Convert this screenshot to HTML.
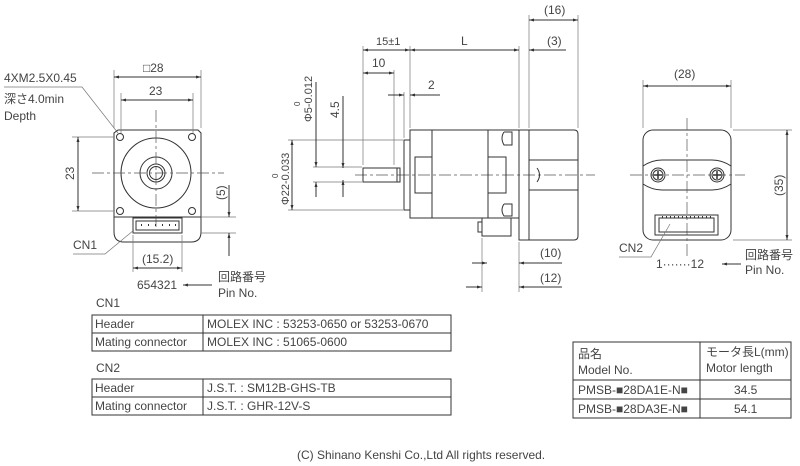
<!DOCTYPE html>
<html><head><meta charset="utf-8"><style>
html,body{margin:0;padding:0;background:#fff;}
svg{display:block;font-family:"Liberation Sans","Noto Sans CJK JP",sans-serif;}
text{fill:#444;font-size:12px;}
.l{stroke:#333;stroke-width:1;fill:none !important;}
.t{stroke:#777;stroke-width:0.7;fill:none !important;}
.c{stroke:#555;stroke-width:0.7;fill:none !important;stroke-dasharray:12 3 3 3;}
</style></head><body>
<svg width="800" height="466" viewBox="0 0 800 466" xmlns="http://www.w3.org/2000/svg">
<defs>
<marker id="a" viewBox="0 0 10 10" refX="10" refY="5" markerWidth="7" markerHeight="5" orient="auto-start-reverse"><path d="M0,2 L10,5 L0,8z" fill="#333"/></marker>
</defs>
<g fill="none">
<!-- ===== LEFT VIEW ===== -->
<text x="4" y="82">4XM2.5X0.45</text>
<text x="4" y="103">深さ4.0min</text>
<text x="4" y="120">Depth</text>
<path class="t" fill="none" d="M4,87 H82 L118,133"/>
<path class="l" fill="none" d="M118,130 H198 L201,133 V217 H114 V133 Z"/>
<path class="l" fill="none" d="M114,217 V232 Q114,242 124,242 H191 Q201,242 201,232 V217"/>
<circle class="l" fill="none" cx="120" cy="137" r="3.5"/><circle class="l" fill="none" cx="192" cy="137" r="3.5"/>
<circle class="l" fill="none" cx="120" cy="211" r="3.5"/><circle class="l" fill="none" cx="192" cy="211" r="3.5"/>
<circle class="l" fill="none" cx="156" cy="173" r="35"/>
<circle class="l" fill="none" cx="156" cy="173" r="16"/>
<circle class="l" fill="none" cx="156" cy="173" r="9"/>
<circle class="l" fill="none" cx="156" cy="173" r="6.5"/>
<path class="c" fill="none" d="M92,173 H224 M156,110 V230"/>
<rect class="l" fill="none" x="133" y="218" width="49" height="15" stroke-width="1.5"/>
<rect class="l" fill="none" x="136" y="221" width="43" height="9"/>
<path d="M141,225h1M148,225h1M155,225h1M162,225h1M169,225h1M175,225h1" stroke="#333" stroke-width="2"/>
<text x="143" y="72">□28</text>
<path class="t" fill="none" d="M114,128 V70 M201,128 V70 M121,133 V93 M193,133 V93"/>
<path class="l" fill="none" d="M114,77 H201" marker-start="url(#a)" marker-end="url(#a)"/>
<text x="149" y="95">23</text>
<path class="l" fill="none" d="M121,100 H193" marker-start="url(#a)" marker-end="url(#a)"/>
<path class="t" fill="none" d="M72,137 H114 M72,211 H114"/>
<path class="l" fill="none" d="M78,137 V211" marker-start="url(#a)" marker-end="url(#a)"/>
<text transform="translate(74,180) rotate(-90)">23</text>
<path class="t" fill="none" d="M201,217 H236 M201,233 H236"/>
<path class="l" fill="none" d="M229,185 V217" marker-end="url(#a)"/>
<path class="l" fill="none" d="M229,256 V233" marker-end="url(#a)"/>
<text transform="translate(225,200) rotate(-90)">(5)</text>
<text x="73" y="249">CN1</text>
<path class="t" fill="none" d="M73,254 H105 L134,230"/>
<path class="t" fill="none" d="M133,235 V272 M182,235 V272"/>
<text x="142" y="263">(15.2)</text>
<path class="l" fill="none" d="M133,268 H182" marker-start="url(#a)" marker-end="url(#a)"/>
<text x="137" y="289">654321</text>
<path class="l" fill="none" d="M212,285 H183" marker-end="url(#a)"/>
<text x="218" y="281">回路番号</text>
<text x="218" y="297">Pin No.</text>

<!-- ===== MIDDLE VIEW ===== -->
<path class="c" fill="none" d="M355,175 H595"/>
<rect class="l" fill="none" x="410" y="130" width="109" height="88"/>
<rect class="l" fill="none" x="404" y="140" width="6" height="70"/>
<rect class="l" fill="none" x="519" y="130" width="10" height="110"/>
<path class="l" fill="none" d="M529,130 H574 Q578,130 578,134 V236 Q578,240 574,240 H529"/>
<path class="l" fill="none" d="M529,160 H578 M529,190 H578"/>
<path class="l" fill="none" d="M537,168 Q542,175 537,182"/>
<path class="l" fill="none" d="M432,130 V218 M488,130 V218"/>
<rect class="l" fill="none" x="415" y="157" width="17" height="36"/>
<rect class="l" fill="none" x="488" y="157" width="18" height="36"/>
<path class="l" fill="none" d="M504,132 H512 V145 H504 Q500,138 504,132 M504,204 H512 V216 H504 Q500,210 504,204"/>
<path class="l" fill="none" d="M482,218 V236 H511 V218 M482,222 H478 V232 H482"/>
<path class="l" fill="none" d="M363,168 H400 V182 H363 Z M397,168 V182"/>
<text x="544" y="14">(16)</text>
<path class="t" fill="none" d="M529,15 V128 M578,15 V128"/>
<path class="l" fill="none" d="M529,20 H578" marker-start="url(#a)" marker-end="url(#a)"/>
<text x="547" y="45">(3)</text>
<path class="t" fill="none" d="M519,46 V128 M410,46 V128 M363,46 V165 M394,70 V165 M404,92 V138"/>
<path class="l" fill="none" d="M529,50 H566" marker-start="url(#a)"/>
<path class="l" fill="none" d="M410,50 H519" marker-start="url(#a)" marker-end="url(#a)"/>
<text x="461" y="45">L</text>
<path class="l" fill="none" d="M363,50 H410" marker-start="url(#a)" marker-end="url(#a)"/>
<text x="376" y="45" style="font-size:11px">15±1</text>
<path class="l" fill="none" d="M363,73 H394" marker-start="url(#a)" marker-end="url(#a)"/>
<text x="372" y="67">10</text>
<path class="l" fill="none" d="M388,95 H404" marker-end="url(#a)"/>
<path class="l" fill="none" d="M440,95 H410" marker-end="url(#a)"/>
<text x="428" y="89">2</text>
<path class="t" fill="none" d="M288,140 H403 M288,210 H403 M313,167 H362 M313,182 H362"/>
<path class="l" fill="none" d="M292,140 V210" marker-start="url(#a)" marker-end="url(#a)"/>
<text transform="translate(289,205) rotate(-90)" style="font-size:11px">Φ22-0.033</text>
<text transform="translate(278,178) rotate(-90)" style="font-size:8px">0</text>
<path class="l" fill="none" d="M316,82 V167" marker-end="url(#a)"/>
<path class="l" fill="none" d="M316,197 V182" marker-end="url(#a)"/>
<text transform="translate(312,122) rotate(-90)" style="font-size:11px">Φ5-0.012</text>
<text transform="translate(300,106) rotate(-90)" style="font-size:8px">0</text>
<path class="l" fill="none" d="M343,96 V168" marker-end="url(#a)"/>
<path class="l" fill="none" d="M343,197 V180" marker-end="url(#a)"/>
<text transform="translate(339,118) rotate(-90)">4.5</text>
<path class="t" fill="none" d="M482,238 V292 M519,242 V292"/>
<text x="540" y="257">(10)</text>
<path class="l" fill="none" d="M472,263 H487" marker-end="url(#a)"/>
<path class="l" fill="none" d="M562,263 H519" marker-end="url(#a)"/>
<text x="540" y="282">(12)</text>
<path class="l" fill="none" d="M466,287 H482" marker-end="url(#a)"/>
<path class="l" fill="none" d="M562,287 H519" marker-end="url(#a)"/>

<!-- ===== RIGHT VIEW ===== -->
<rect class="l" fill="none" x="643" y="130" width="88" height="110" rx="10"/>
<path class="l" fill="none" d="M643,166 Q652,160 662,160 H712 Q722,160 731,166"/>
<path class="l" fill="none" d="M643,184 Q652,190 662,190 H712 Q722,190 731,184"/>
<path class="c" fill="none" d="M630,175 H745 M687,118 V257"/>
<circle class="l" fill="none" cx="658" cy="175" r="7"/><circle class="l" fill="none" cx="658" cy="175" r="5"/>
<circle class="l" fill="none" cx="717" cy="175" r="7"/><circle class="l" fill="none" cx="717" cy="175" r="5"/>
<path d="M654,175h8M658,171v8M713,175h8M717,171v8" stroke="#333" stroke-width="1.5"/>
<rect class="l" fill="none" x="655" y="215" width="63" height="20" stroke-width="1.3"/>
<path class="l" fill="none" d="M659,218 H714 V232 H659 Z"/>
<path d="M662,217H712" stroke="#333" stroke-width="2" stroke-dasharray="1 3"/>
<text x="674" y="78">(28)</text>
<path class="t" fill="none" d="M643,128 V80 M731,128 V80"/>
<path class="l" fill="none" d="M643,86 H731" marker-start="url(#a)" marker-end="url(#a)"/>
<path class="t" fill="none" d="M733,130 H792 M733,240 H792"/>
<path class="l" fill="none" d="M787,130 V240" marker-start="url(#a)" marker-end="url(#a)"/>
<text transform="translate(783,196) rotate(-90)">(35)</text>
<text x="619" y="252">CN2</text>
<path class="t" fill="none" d="M619,257 H651 L670,224"/>
<text x="656" y="268">1·······12</text>
<path class="l" fill="none" d="M741,264 H722" marker-end="url(#a)"/>
<text x="745" y="259">回路番号</text>
<text x="745" y="274">Pin No.</text>

<!-- ===== TABLES ===== -->
<text x="96" y="307">CN1</text>
<rect class="l" fill="none" x="92" y="315" width="359" height="36"/>
<path class="l" fill="none" d="M92,333 H451 M203,315 V351"/>
<text x="95" y="328">Header</text><text x="207" y="328">MOLEX INC : 53253-0650 or 53253-0670</text>
<text x="95" y="346">Mating connector</text><text x="207" y="346">MOLEX INC : 51065-0600</text>
<text x="96" y="372">CN2</text>
<rect class="l" fill="none" x="92" y="379" width="359" height="36"/>
<path class="l" fill="none" d="M92,397 H451 M203,379 V415"/>
<text x="95" y="392">Header</text><text x="207" y="392">J.S.T. : SM12B-GHS-TB</text>
<text x="95" y="410">Mating connector</text><text x="207" y="410">J.S.T. : GHR-12V-S</text>

<rect class="l" fill="none" x="573" y="342" width="218" height="76"/>
<path class="l" fill="none" d="M573,380 H791 M573,399 H791 M700,342 V418"/>
<text x="578" y="358">品名</text><text x="578" y="374">Model No.</text>
<text x="706" y="356">モータ長L(mm)</text><text x="706" y="372">Motor length</text>
<text x="578" y="394">PMSB-■28DA1E-N■</text><text x="734" y="394">34.5</text>
<text x="578" y="413">PMSB-■28DA3E-N■</text><text x="734" y="413">54.1</text>

<text x="297" y="459">(C)  Shinano Kenshi Co.,Ltd All rights reserved.</text>
</g>
</svg>
</body></html>
